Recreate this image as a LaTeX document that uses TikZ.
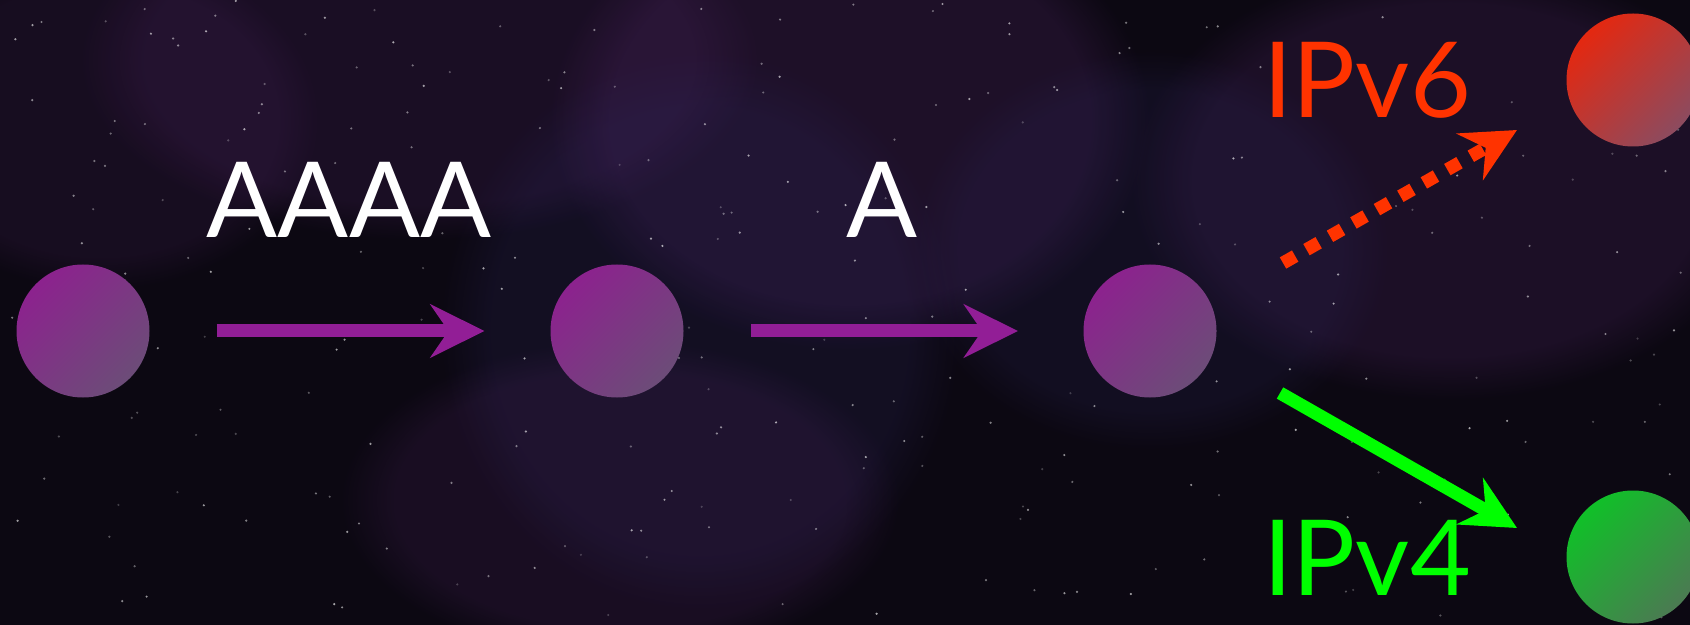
\documentclass[tikz,border=0pt]{standalone}
\usepackage{fontspec}
\setmainfont{Lato}
\usetikzlibrary{arrows.meta,fadings}
\definecolor{bg}{RGB}{12,8,18}
\definecolor{neb}{RGB}{95,45,120}
\definecolor{nebb}{RGB}{45,40,95}
\definecolor{purarrow}{RGB}{146,30,150}
\definecolor{purA}{RGB}{140,34,142}
\definecolor{purB}{RGB}{108,76,120}
\definecolor{redA}{RGB}{228,40,16}
\definecolor{redB}{RGB}{140,75,95}
\definecolor{grnA}{RGB}{16,192,40}
\definecolor{grnB}{RGB}{75,122,82}
\definecolor{v6col}{RGB}{255,51,0}
\definecolor{v4col}{RGB}{0,255,0}
\tikzset{
  dot/.style={circle, inner sep=0pt, outer sep=0pt, minimum size=66.5pt, shading=axis},
  purdot/.style={dot, top color=purA, bottom color=purB, shading angle=45},
  reddot/.style={dot, top color=redA, bottom color=redB, shading angle=45},
  grndot/.style={dot, top color=grnA, bottom color=grnB, shading angle=45},
  tip/.style={-{Stealth[length=27pt,width=26.5pt,inset=9pt]}},
  flow/.style={tip, line width=6.5pt},
  lbl/.style={inner sep=0pt, anchor=base, font=\fontsize{52.5}{60}\selectfont},
  haze/.style={path fading=circle with fuzzy edge 20 percent}
}
\begin{document}
\begin{tikzpicture}[x=0.5pt,y=-0.5pt]
\useasboundingbox (0,0) rectangle (1690,625);
\clip (0,0) rectangle (1690,625);
\fill[bg] (0,0) rectangle (1690,625);
% nebula haze
\fill[neb, opacity=0.22, haze] (850,120) ellipse (300 and 230);
\fill[neb, opacity=0.18, haze] (420,60) ellipse (340 and 180);
\fill[neb, opacity=0.20, haze] (1450,180) ellipse (320 and 220);
\fill[nebb, opacity=0.22, haze] (700,330) ellipse (260 and 280);
\fill[neb, opacity=0.16, haze] (620,500) ellipse (280 and 160);
\fill[nebb, opacity=0.20, haze] (1150,250) ellipse (240 and 200);
\fill[neb, opacity=0.14, haze] (100,120) ellipse (220 and 170);
% stars
\pgfmathsetseed{42}
\foreach \i in {1,...,260}{
  \pgfmathsetmacro\sx{rnd*1690}
  \pgfmathsetmacro\sy{rnd*625}
  \pgfmathsetmacro\so{0.2+0.45*rnd}
  \fill[white, opacity=\so] (\sx,\sy) circle (1.2);
}
% nodes
\node[purdot] (n1) at (83,331) {};
\node[purdot] (n2) at (617,331) {};
\node[purdot] (n3) at (1150,331) {};
\node[reddot] (v6) at (1633,80) {};
\node[grndot] (v4) at (1633,557) {};
% labels
\node[lbl, white] (t1) at (349,238) {AAAA};
\node[lbl, white] (t2) at (882,238) {A};
\node[lbl, v6col, anchor=base west] (t6) at (1263,118) {IPv6};
\node[lbl, v4col, anchor=base west] (t4) at (1263,595) {IPv4};
% connectors
\draw[flow, purarrow, shorten <=33.5pt, shorten >=33pt] (n1) -- (n2);
\draw[flow, purarrow, shorten <=33.75pt, shorten >=32.75pt] (n2) -- (n3);
\coordinate (r0) at (1283,263);
\coordinate (r1) at (1517,130);
\coordinate (g0) at (1280,393);
\coordinate (g1) at (1517,528);
\draw[flow, v6col, dash pattern=on 7pt off 6.5pt] (r0) -- (r1);
\draw[flow, v4col] (g0) -- (g1);
\end{tikzpicture}
\end{document}
